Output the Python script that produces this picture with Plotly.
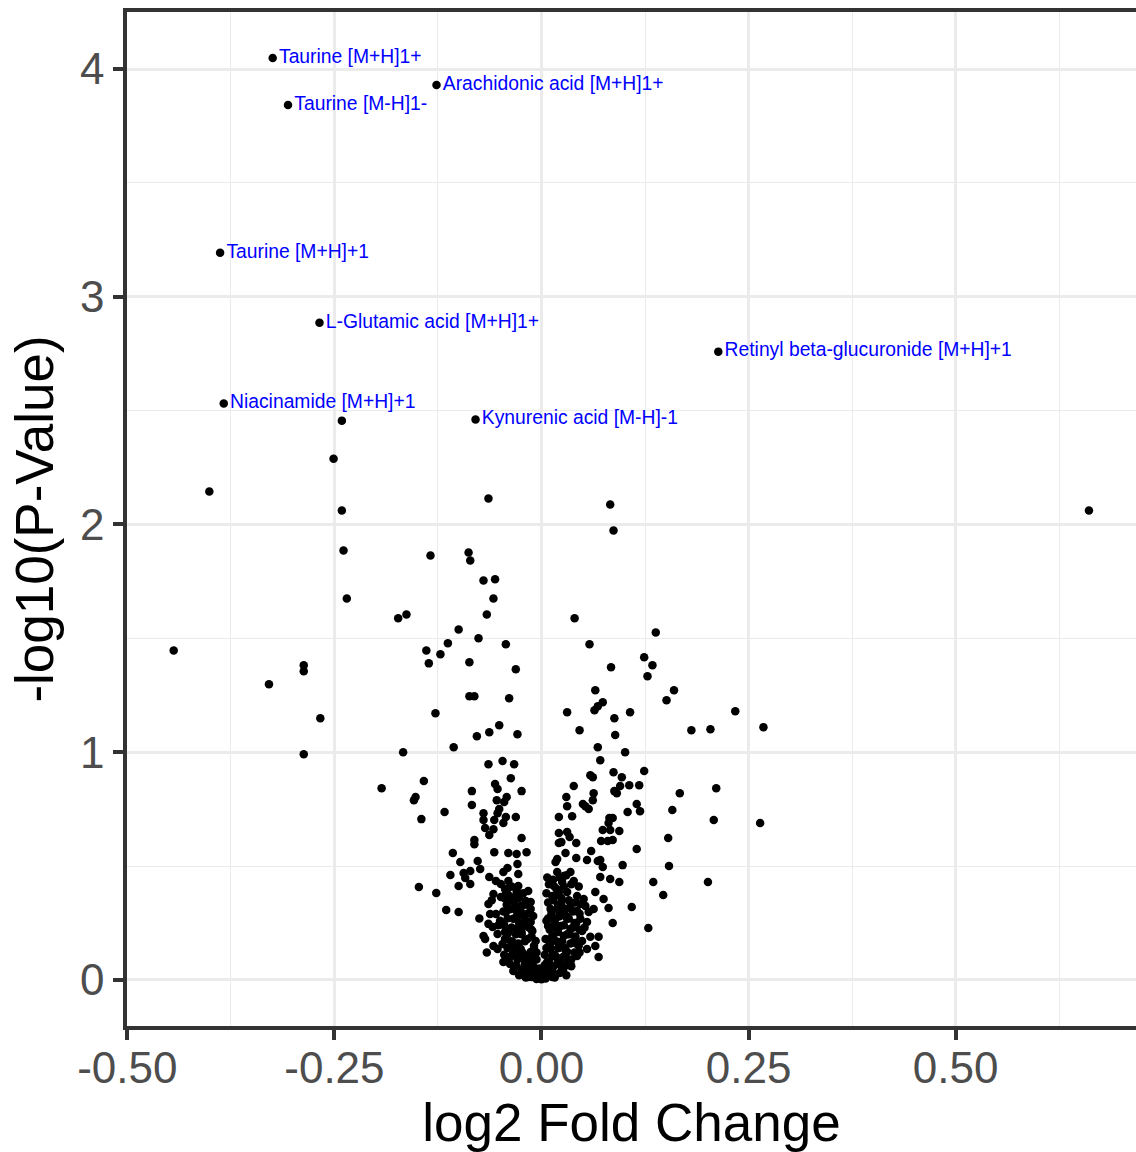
import plotly.graph_objects as go

# Labeled metabolites
label_names = [
    "Taurine [M+H]1+",
    "Arachidonic acid [M+H]1+",
    "Taurine [M-H]1-",
    "Taurine [M+H]+1",
    "L-Glutamic acid [M+H]1+",
    "Retinyl beta-glucuronide [M+H]+1",
    "Niacinamide [M+H]+1",
    "Kynurenic acid [M-H]-1",
]
label_fc = [-0.3245, -0.1267, -0.306, -0.388, -0.268, 0.2135, -0.3836, -0.0796]
label_p = [4.048, 3.930, 3.842, 3.193, 2.886, 2.759, 2.531, 2.461]

# All other metabolites: log2 fold change and -log10(p)
fc_values = [
    -0.401, -0.241, -0.251, -0.241, -0.239, -0.235, 0.661, -0.064, 0.083, 0.087,
    -0.134, -0.088, -0.086, -0.070, -0.056, -0.058, -0.066, -0.163, -0.173, 0.040,
    -0.100, 0.138, -0.076, -0.113, -0.043, 0.058, -0.139, -0.444, -0.122, -0.136,
    -0.087, -0.031, 0.124, 0.134, 0.084, 0.128, -0.287, -0.287, -0.329, 0.065,
    0.160, 0.151, -0.087, -0.081, -0.039, -0.128, 0.031, 0.064, 0.068, 0.074,
    0.088, 0.107, 0.234, -0.267, 0.046, 0.089, 0.181, 0.204, 0.268, -0.078,
    -0.063, -0.051, -0.029, -0.106, -0.167, -0.287, 0.068, 0.101, 0.071, -0.064,
    -0.047, -0.033, 0.087, 0.097, 0.124, 0.059, 0.062, -0.142, -0.037, 0.039,
    -0.056, -0.053, -0.084, -0.024, -0.152, -0.154, 0.030, 0.063, 0.088, 0.091,
    0.095, 0.106, 0.118, 0.167, 0.211, -0.193, -0.042, -0.045, -0.054, -0.084,
    0.031, 0.050, 0.053, 0.057, 0.062, 0.115, 0.104, 0.119, 0.158, -0.117,
    -0.070, -0.053, -0.051, -0.043, -0.031, -0.145, 0.021, 0.037, 0.082, 0.086,
    0.208, 0.264, 0.081, 0.074, 0.083, 0.094, -0.070, -0.057, -0.046, -0.068,
    -0.058, -0.063, 0.021, 0.031, 0.034, -0.081, -0.081, -0.024, 0.021, 0.024,
    0.042, 0.072, 0.080, 0.086, 0.115, -0.107, -0.057, -0.040, -0.030, -0.018,
    0.029, 0.042, 0.060, 0.055, 0.153, -0.098, -0.077, -0.074, -0.041, -0.029,
    -0.028, 0.017, 0.019, 0.068, 0.071, 0.074, 0.098, 0.154, -0.110, -0.094,
    -0.086, -0.092, -0.100, -0.086, -0.063, -0.055, 0.071, 0.083, 0.094, 0.135,
    0.201, 0.147, -0.127, -0.115, -0.100, 0.081, 0.109, 0.086, 0.129, -0.148,
    # left arm of the volcano
    -0.041, -0.028, -0.016, -0.049, -0.037, -0.025, -0.013, -0.058, -0.064, -0.062,
    -0.055, -0.064, -0.059, -0.070, -0.053, -0.041, -0.047, -0.035, -0.058, -0.040,
    -0.034, -0.025, -0.017, -0.013, -0.022, -0.034, -0.043, -0.013, -0.019, -0.010,
    -0.005, -0.013, -0.001, -0.046, -0.040, -0.049, -0.043, -0.031, -0.019, -0.013,
    -0.010, -0.022, -0.011, -0.029, -0.035, -0.028, -0.022, -0.016, -0.010, -0.007,
    -0.053, -0.046,
    -0.075, -0.068, -0.052, -0.045, -0.036, -0.030, -0.024, -0.020, -0.015, -0.009,
    -0.066, -0.060, -0.050, -0.044, -0.038, -0.032, -0.026, -0.018, -0.012, -0.006,
    -0.044, -0.036, -0.030, -0.022, -0.045, -0.039, -0.027, -0.020, -0.042, -0.033,
    -0.025, -0.017, -0.046, -0.038, -0.030, -0.041, -0.027, -0.019, -0.045, -0.036,
    -0.015, -0.040, -0.031, -0.024, -0.012, -0.044, -0.037, -0.028, -0.020, -0.009,
    -0.041, -0.031, -0.023, -0.015, -0.006, -0.038, -0.029, -0.020, -0.011, -0.032,
    -0.024, -0.015, -0.007, -0.027, -0.019, -0.010, -0.004,
    # right arm of the volcano
    0.019, 0.027, 0.035, 0.039, 0.025, 0.015, 0.021, 0.031, 0.043, 0.051,
    0.065, 0.053, 0.063, 0.035, 0.043, 0.019, 0.011, 0.031, 0.047, 0.057,
    0.023, 0.035, 0.049, 0.059, 0.069, 0.065, 0.055, 0.039, 0.027, 0.019,
    0.013, 0.011, 0.031, 0.043, 0.023, 0.015, 0.007, 0.005, 0.013, 0.017,
    0.008, 0.013, 0.007, 0.025, 0.035, 0.049, 0.055, 0.075, 0.047, 0.025,
    0.069,
    0.010, 0.016, 0.022, 0.028, 0.034, 0.040, 0.046, 0.052, 0.012, 0.018,
    0.024, 0.030, 0.036, 0.042, 0.008, 0.014, 0.020, 0.026, 0.032, 0.006,
    0.007, 0.014, 0.022, 0.030, 0.009, 0.018, 0.027, 0.036, 0.045, 0.006,
    0.016, 0.024, 0.033, 0.041, 0.008, 0.020, 0.029, 0.038, 0.046, 0.012,
    0.022, 0.033, 0.042, 0.006, 0.016, 0.027, 0.038, 0.046, 0.010, 0.020,
    0.031, 0.041, 0.005, 0.015, 0.025, 0.035, 0.045, 0.010, 0.021, 0.029,
    0.040, 0.004, 0.016, 0.026, 0.036, 0.009, 0.019, 0.028, 0.003, 0.013,
    0.022, 0.030, 0.006, 0.016, 0.001, -0.002,
    # base of the volcano
    0.000, -0.006, 0.005, -0.003, 0.008, -0.012, 0.013, 0.002, -0.008, 0.010,
    -0.002, 0.004,
]
p_values = [
    2.145, 2.456, 2.289, 2.061, 1.886, 1.675, 2.061, 2.114, 2.088, 1.974,
    1.864, 1.877, 1.842, 1.754, 1.759, 1.675, 1.605, 1.605, 1.588, 1.588,
    1.539, 1.526, 1.500, 1.478, 1.474, 1.474, 1.447, 1.447, 1.430, 1.390,
    1.395, 1.364, 1.417, 1.382, 1.373, 1.333, 1.382, 1.355, 1.298, 1.272,
    1.272, 1.228, 1.246, 1.246, 1.237, 1.171, 1.175, 1.184, 1.202, 1.219,
    1.149, 1.175, 1.180, 1.149, 1.096, 1.075, 1.096, 1.101, 1.110, 1.070,
    1.088, 1.118, 1.079, 1.022, 1.000, 0.991, 1.022, 1.000, 0.965, 0.947,
    0.961, 0.947, 0.912, 0.890, 0.917, 0.899, 0.890, 0.873, 0.886, 0.851,
    0.860, 0.838, 0.829, 0.829, 0.803, 0.789, 0.803, 0.820, 0.829, 0.820,
    0.851, 0.855, 0.855, 0.820, 0.842, 0.842, 0.803, 0.781, 0.789, 0.768,
    0.763, 0.772, 0.763, 0.750, 0.789, 0.772, 0.737, 0.741, 0.746, 0.737,
    0.732, 0.732, 0.750, 0.715, 0.715, 0.706, 0.715, 0.719, 0.711, 0.711,
    0.702, 0.689, 0.689, 0.658, 0.658, 0.654, 0.702, 0.702, 0.689, 0.667,
    0.662, 0.636, 0.645, 0.649, 0.627, 0.614, 0.596, 0.623, 0.601, 0.605,
    0.601, 0.610, 0.610, 0.614, 0.575, 0.557, 0.561, 0.557, 0.553, 0.561,
    0.557, 0.535, 0.566, 0.526, 0.623, 0.518, 0.522, 0.487, 0.491, 0.509,
    0.465, 0.518, 0.531, 0.522, 0.526, 0.496, 0.504, 0.500, 0.461, 0.469,
    0.478, 0.447, 0.412, 0.421, 0.452, 0.434, 0.452, 0.443, 0.430, 0.430,
    0.430, 0.373, 0.382, 0.307, 0.298, 0.316, 0.320, 0.250, 0.228, 0.408,
    # left arm of the volcano
    0.399, 0.412, 0.390, 0.364, 0.355, 0.325, 0.342, 0.377, 0.333, 0.289,
    0.289, 0.246, 0.232, 0.193, 0.202, 0.202, 0.158, 0.167, 0.149, 0.092,
    0.039, 0.136, 0.180, 0.254, 0.281, 0.268, 0.298, 0.123, 0.079, 0.061,
    0.026, 0.035, 0.013, 0.474, 0.434, 0.421, 0.390, 0.368, 0.346, 0.311,
    0.281, 0.237, 0.215, 0.224, 0.114, 0.101, 0.048, 0.013, 0.105, 0.171,
    0.136, 0.079,
    0.270, 0.180, 0.240, 0.110, 0.150, 0.060, 0.200, 0.090, 0.050, 0.140,
    0.120, 0.350, 0.260, 0.210, 0.070, 0.310, 0.120, 0.030, 0.220, 0.090,
    0.400, 0.410, 0.390, 0.380, 0.360, 0.370, 0.360, 0.330, 0.330, 0.340,
    0.300, 0.290, 0.300, 0.310, 0.280, 0.270, 0.250, 0.260, 0.240, 0.230,
    0.230, 0.210, 0.200, 0.210, 0.190, 0.180, 0.170, 0.160, 0.170, 0.150,
    0.140, 0.130, 0.120, 0.110, 0.120, 0.100, 0.090, 0.070, 0.080, 0.060,
    0.040, 0.030, 0.050, 0.020, 0.010, 0.020, 0.010,
    # right arm of the volcano
    0.474, 0.456, 0.474, 0.434, 0.430, 0.412, 0.386, 0.386, 0.368, 0.355,
    0.386, 0.325, 0.311, 0.325, 0.303, 0.311, 0.311, 0.268, 0.268, 0.298,
    0.237, 0.224, 0.215, 0.189, 0.189, 0.149, 0.136, 0.167, 0.193, 0.167,
    0.193, 0.136, 0.123, 0.105, 0.079, 0.061, 0.035, 0.018, 0.368, 0.268,
    0.237, 0.105, 0.079, 0.048, 0.070, 0.171, 0.254, 0.355, 0.333, 0.320,
    0.101,
    0.160, 0.230, 0.290, 0.140, 0.200, 0.250, 0.120, 0.230, 0.050, 0.100,
    0.340, 0.280, 0.060, 0.160, 0.270, 0.350, 0.140, 0.040, 0.090, 0.140,
    0.450, 0.440, 0.450, 0.460, 0.420, 0.400, 0.410, 0.420, 0.410, 0.380,
    0.370, 0.360, 0.350, 0.340, 0.340, 0.330, 0.310, 0.300, 0.290, 0.290,
    0.280, 0.270, 0.250, 0.260, 0.250, 0.240, 0.230, 0.220, 0.220, 0.210,
    0.200, 0.190, 0.180, 0.180, 0.170, 0.160, 0.150, 0.150, 0.140, 0.130,
    0.120, 0.110, 0.110, 0.100, 0.090, 0.080, 0.070, 0.060, 0.050, 0.040,
    0.030, 0.020, 0.020, 0.010, 0.010, 0.030,
    # base of the volcano
    0.003, 0.004, 0.006, 0.022, 0.022, 0.013, 0.013, 0.035, 0.030, 0.045,
    0.050, 0.065,
]

BASE_FONT = "Liberation Sans, Arial, Helvetica, sans-serif"

fig = go.Figure()
fig.add_trace(go.Scatter(
    x=fc_values, y=p_values, mode="markers",
    marker=dict(color="black", size=8.5, line=dict(width=0)),
    hoverinfo="x+y", showlegend=False,
))
fig.add_trace(go.Scatter(
    x=label_fc, y=label_p, mode="markers+text",
    text=label_names, textposition="middle right",
    textfont=dict(color="#0000FF", size=19.3, family=BASE_FONT),
    marker=dict(color="black", size=8.5, line=dict(width=0)),
    hoverinfo="text+x+y", showlegend=False,
))

axis_common = dict(
    showline=True, linecolor="#333333", linewidth=3.5,
    ticks="outside", ticklen=10, tickwidth=3.5, tickcolor="#333333",
    tickfont=dict(size=44, color="#4D4D4D", family=BASE_FONT),
    showgrid=True, gridcolor="#EBEBEB", gridwidth=2.6,
    zeroline=False, automargin=False,
)

fig.update_layout(
    width=1136, height=1152,
    margin=dict(l=127, r=0, t=12, b=126),
    plot_bgcolor="white", paper_bgcolor="white",
    font=dict(family=BASE_FONT),
    xaxis=dict(
        **axis_common,
        range=[-0.5004, 0.7178],
        tickvals=[-0.5, -0.25, 0.0, 0.25, 0.5],
        ticktext=["-0.50", "-0.25", "0.00", "0.25", "0.50"],
        minor=dict(tickvals=[-0.375, -0.125, 0.125, 0.375, 0.625],
                   showgrid=True, gridcolor="#EBEBEB", gridwidth=1.3, ticks=""),
        mirror=True,
        ticklabelstandoff=-10,
        title=dict(text="log2 Fold Change", font=dict(size=53, color="black", family=BASE_FONT), standoff=18),
    ),
    yaxis=dict(
        **axis_common,
        range=[-0.2025, 4.2505],
        tickvals=[0, 1, 2, 3, 4],
        ticktext=["0", "1", "2", "3", "4"],
        minor=dict(tickvals=[0.5, 1.5, 2.5, 3.5],
                   showgrid=True, gridcolor="#EBEBEB", gridwidth=1.3, ticks=""),
        title=dict(text="-log10(P-Value)", font=dict(size=53, color="black", family=BASE_FONT), standoff=10),
    ),
)

# Remove the page's default body margin so the figure fills the window exactly.
fig.write_html(
    "out.html",
    config={"displayModeBar": False},
    post_script="document.body.style.margin='0';document.documentElement.style.overflow='hidden';",
)
